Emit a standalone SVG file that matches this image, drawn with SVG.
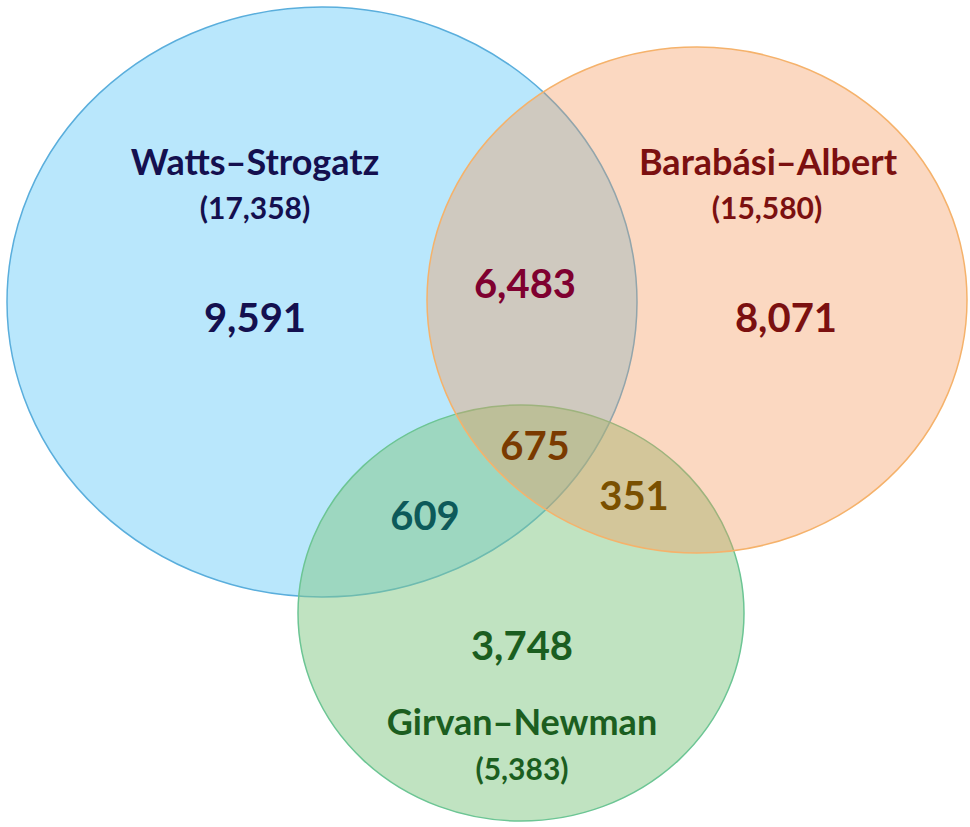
<svg xmlns="http://www.w3.org/2000/svg" width="970" height="827" viewBox="0 0 970 827">
<style>
text{font-family:Lato,"Open Sans","Liberation Sans",sans-serif;font-weight:bold;text-anchor:middle}
.t{font-size:36px}
.s{font-size:30px}
.n{font-size:40px}
</style>
<rect width="970" height="827" fill="#ffffff"/>
<g id="watts-strogatz">
<ellipse cx="322" cy="302" rx="315" ry="295" fill="#4fc3f7" fill-opacity="0.4" stroke="#5aaedc" stroke-width="1.5"/>
</g>
<g id="girvan-newman">
<ellipse cx="521" cy="613" rx="223" ry="208" fill="#81c784" fill-opacity="0.5" stroke="#6cc594" stroke-width="1.5"/>
</g>
<g id="barabasi-albert">
<ellipse cx="697" cy="300" rx="270" ry="253" fill="#f59658" fill-opacity="0.37" stroke="#f5b26b" stroke-width="1.5"/>
</g>
<g id="labels">
<text class="t" x="255" y="175" fill="#14104f">Watts–Strogatz</text>
<text class="s" x="255" y="219" fill="#14104f">(17,358)</text>
<text class="n" x="255" y="332" fill="#14104f">9,591</text>
<text class="t" x="768" y="175" fill="#7b1010">Barabási–Albert</text>
<text class="s" x="767" y="219" fill="#7b1010">(15,580)</text>
<text class="n" x="786" y="332" fill="#7b1010">8,071</text>
<text class="n" x="525" y="298" fill="#7f0030">6,483</text>
<text class="n" x="535" y="460" fill="#7a3a00">675</text>
<text class="n" x="634" y="510" fill="#7a5000">351</text>
<text class="n" x="425" y="530" fill="#0d5a5a">609</text>
<text class="n" x="522" y="660" fill="#1b5e20">3,748</text>
<text class="t" x="522" y="735" fill="#1b5e20">Girvan–Newman</text>
<text class="s" x="522" y="780" fill="#1b5e20">(5,383)</text>
</g>
</svg>
